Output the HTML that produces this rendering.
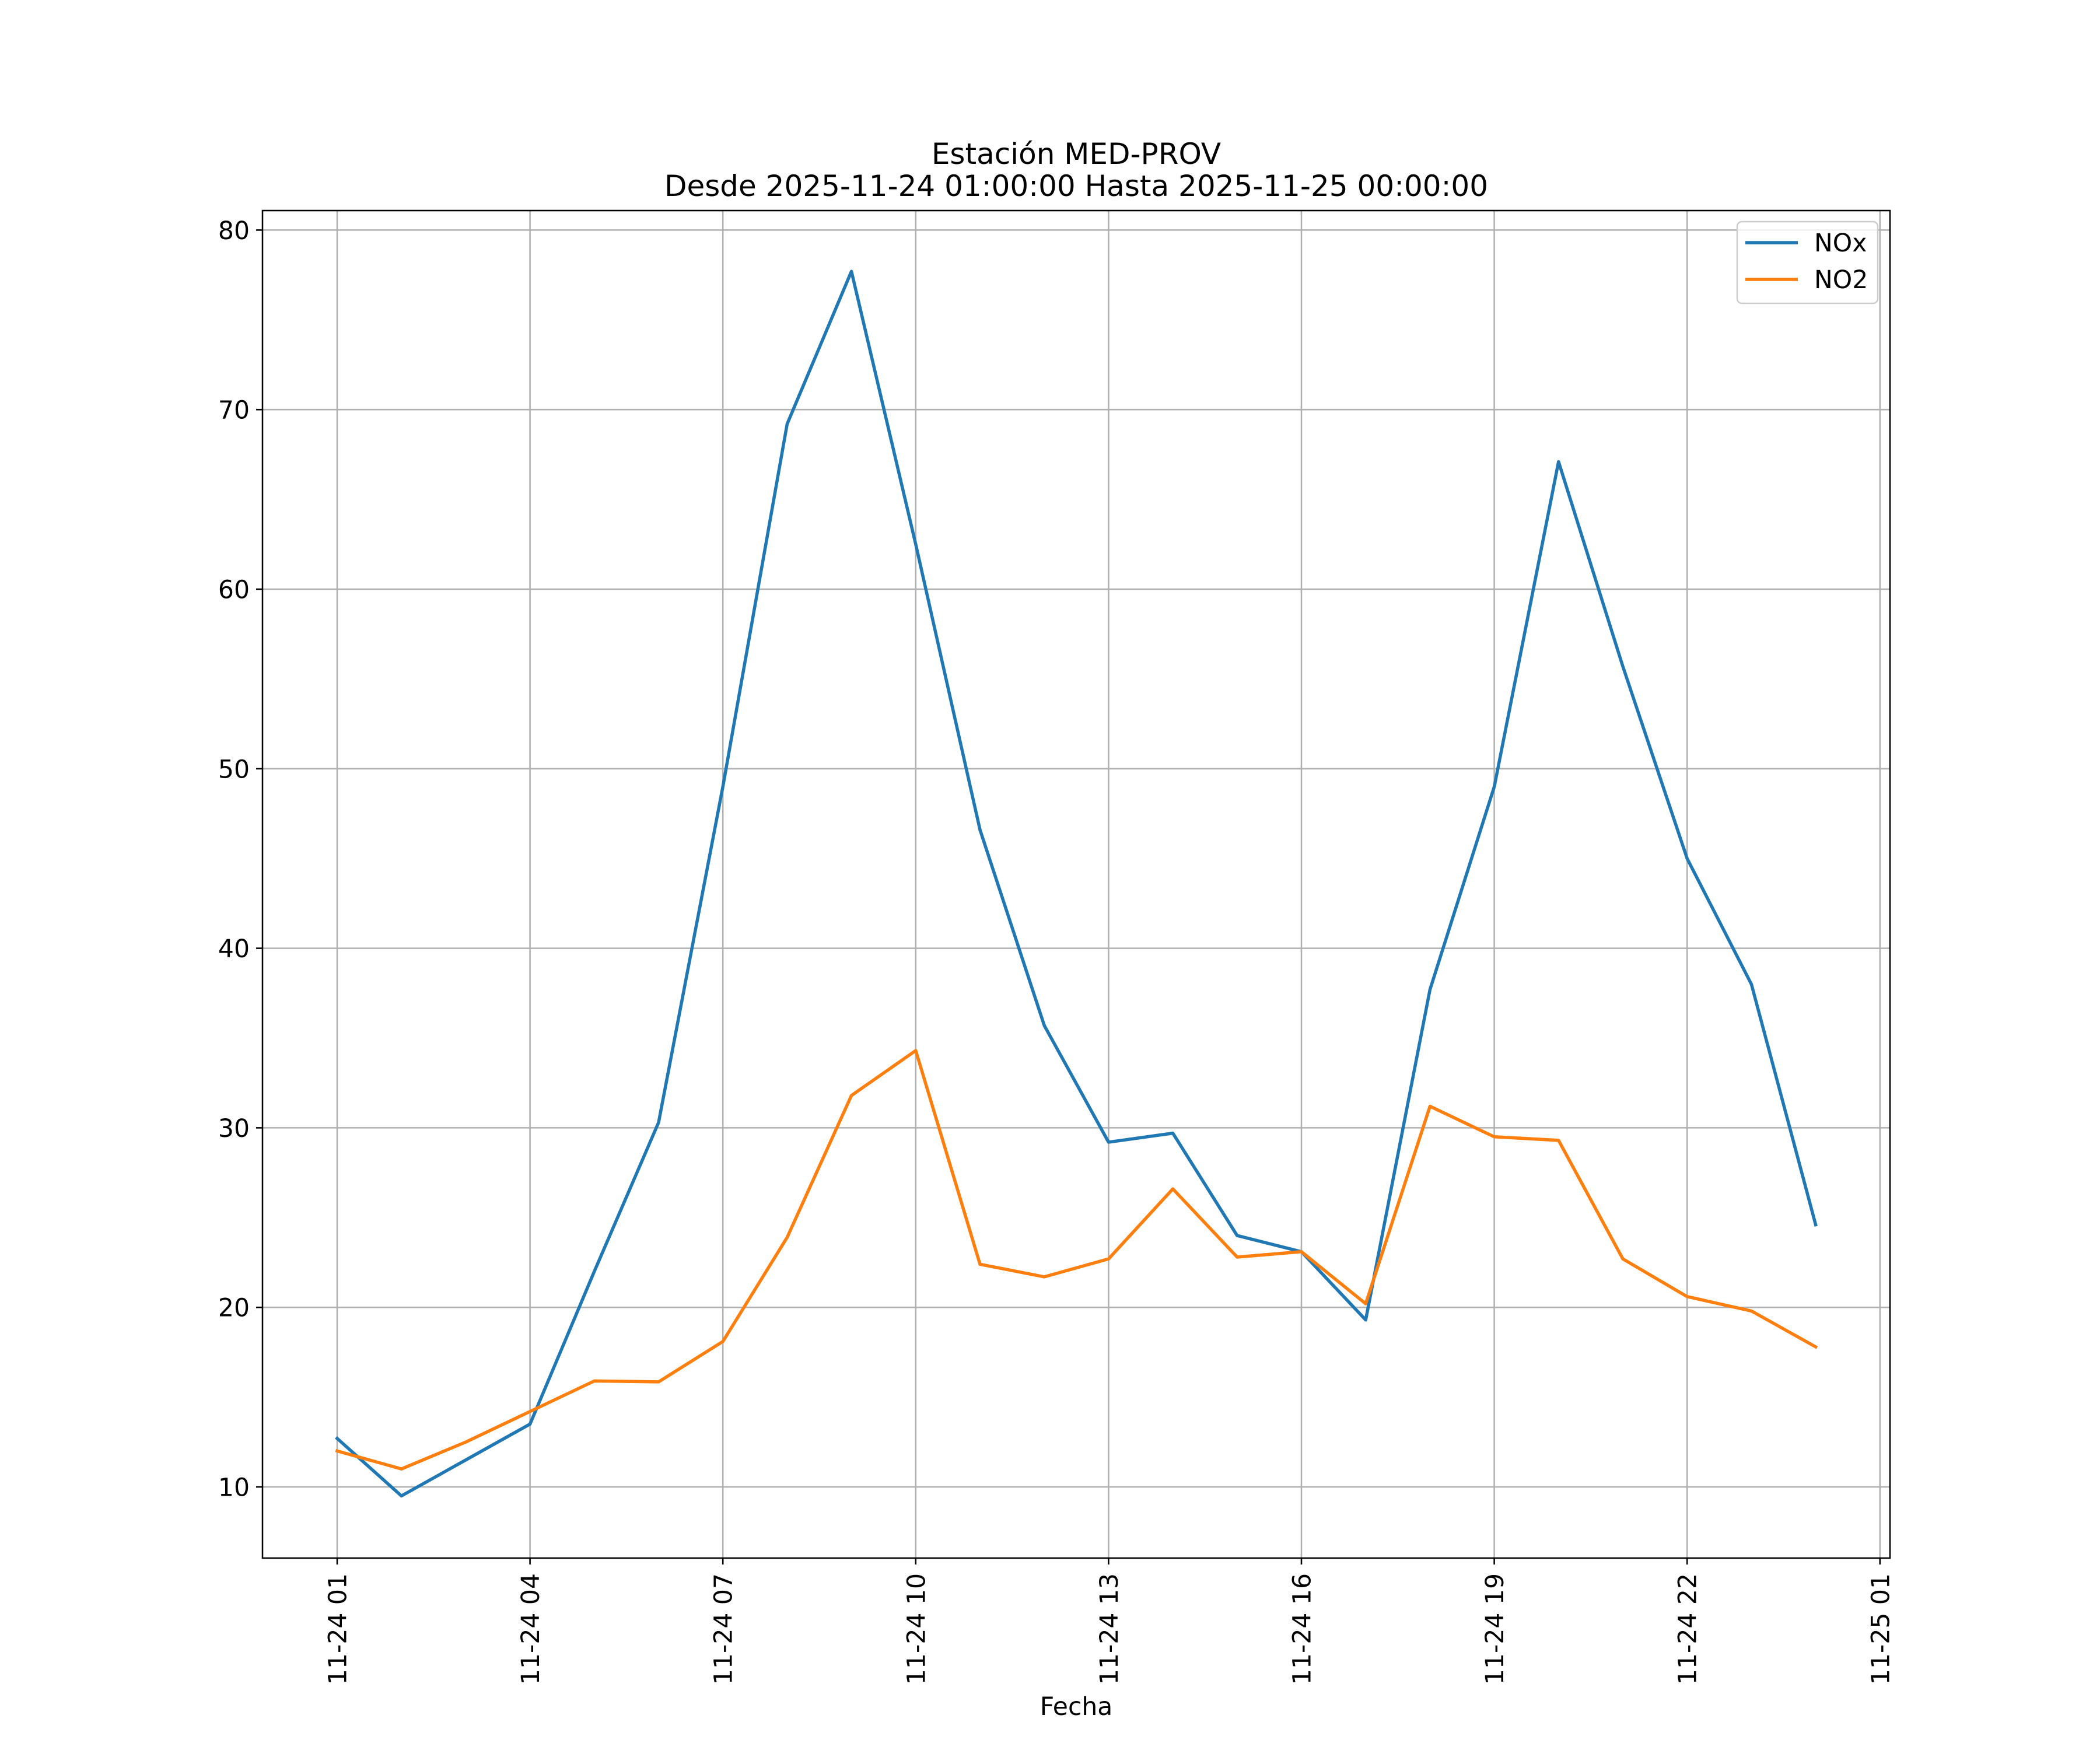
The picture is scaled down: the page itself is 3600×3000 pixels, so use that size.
<!DOCTYPE html>
<html><head><meta charset="utf-8"><style>
html,body{margin:0;padding:0;background:#fff;}
svg{display:block;font-family:"DejaVu Sans","Liberation Sans",sans-serif;}
</style></head><body>
<svg id="chart" width="3600" height="3000" viewBox="0 0 3600 3000">
<rect width="3600" height="3000" fill="#fff"/>
<text x="1845" y="281" font-size="50" text-anchor="middle">Estación MED-PROV</text>
<text x="1845" y="336" font-size="50" text-anchor="middle">Desde 2025-11-24 01:00:00 Hasta 2025-11-25 00:00:00</text>
<g id="grid"></g><g id="series"></g><g id="axes"></g>
<text x="1845" y="2940" font-size="42.5" text-anchor="middle">Fecha</text>
<g>
<rect x="2978" y="380" width="241" height="140" rx="8" fill="#fff" fill-opacity="0.8" stroke="#cccccc" stroke-width="2.5"/>
<line x1="2992" y1="416" x2="3082" y2="416" stroke="#1f77b4" stroke-width="5.5"/>
<text x="3110" y="431" font-size="42.5">NOx</text>
<line x1="2992" y1="479" x2="3082" y2="479" stroke="#ff7f0e" stroke-width="5.5"/>
<text x="3110" y="494" font-size="42.5">NO2</text>
</g>
</svg>
<script>
const hours = [1,2,3,4,5,6,7,8,9,10,11,12,13,14,15,16,17,18,19,20,21,22,23,24];
const noxValues = [12.7,9.5,11.5,13.5,22.0,30.3,49.0,69.2,77.7,62.5,46.6,35.7,29.2,29.7,24.0,23.1,19.3,37.7,49.0,67.1,55.7,45.0,38.0,24.6];
const no2Values = [12.0,11.0,12.5,14.2,15.9,15.85,18.1,23.9,31.8,34.3,22.4,21.7,22.7,26.6,22.8,23.1,20.2,31.2,29.5,29.3,22.7,20.6,19.8,17.8];
const yTicks = [10,20,30,40,50,60,70,80];
const xTickHours = [1,4,7,10,13,16,19,22,25];
const xTickLabels = ["11-24 01","11-24 04","11-24 07","11-24 10","11-24 13","11-24 16","11-24 19","11-24 22","11-25 01"];

const L=450,R=3240,T=361,B=2671;
const X0=578, PXH=110.2;
const Y10=2549, PXU=30.78;
function xs(h){return X0+(h-1)*PXH;}
function ys(v){return Y10-(v-10)*PXU;}
const NS="http://www.w3.org/2000/svg";
function mk(tag,attrs,parent){const e=document.createElementNS(NS,tag);for(const k in attrs)e.setAttribute(k,attrs[k]);parent.appendChild(e);return e;}
const grid=document.getElementById('grid'),axes=document.getElementById('axes'),series=document.getElementById('series');

yTicks.forEach((v,i)=>{
  const y=ys(v);
  const g=mk('line',{x1:L,x2:R,y1:y,y2:y,stroke:'#b0b0b0','stroke-width':2.56},grid);
  
  
  const t=mk('line',{x1:L-11,x2:L,y1:y,y2:y,stroke:'#000','stroke-width':2.56},axes);
  
  
  const lb=mk('text',{x:L-22,y:y+15.5,'font-size':42.5,'text-anchor':'end'},axes);
  lb.textContent=String(v);
  
  
});
xTickHours.forEach((h,i)=>{
  const x=xs(h);
  const g=mk('line',{x1:x,x2:x,y1:T,y2:B,stroke:'#b0b0b0','stroke-width':2.56},grid);
  
  
  const t=mk('line',{x1:x,x2:x,y1:B,y2:B+11,stroke:'#000','stroke-width':2.56},axes);
  
  
  const lb=mk('text',{x:0,y:0,'font-size':42.5,'text-anchor':'end',transform:`translate(${x+15.5},${B+26}) rotate(-90)`},axes);
  lb.textContent=xTickLabels[i];
  
  
});
const frame=mk('rect',{x:L,y:T,width:R-L,height:B-T,fill:'none',stroke:'#000','stroke-width':2.56},axes);



function drawLine(vals,color,name){
  const pts=vals.map((v,i)=>xs(hours[i]).toFixed(1)+','+ys(v).toFixed(1)).join(' ');
  const p=mk('polyline',{points:pts,fill:'none',stroke:color,'stroke-width':5.5,'stroke-linejoin':'round','stroke-linecap':'square'},series);
  
  
}
drawLine(noxValues,'#1f77b4','nox-line');
drawLine(no2Values,'#ff7f0e','no2-line');
</script>
</body></html>
